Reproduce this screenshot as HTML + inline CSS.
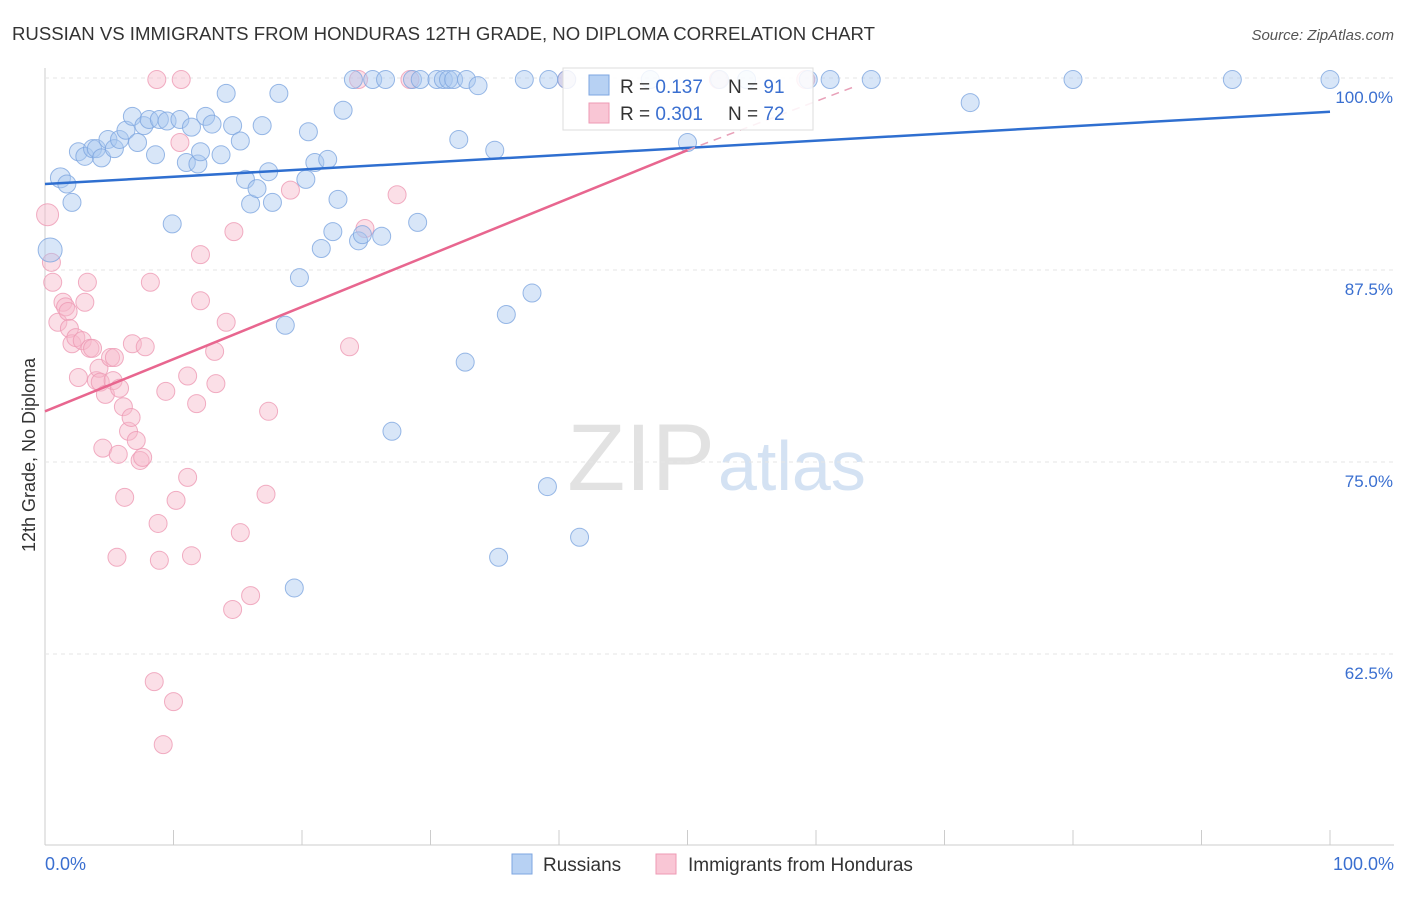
<!DOCTYPE html>
<html><head><meta charset="utf-8"><style>
body{margin:0;background:#fff;font-family:"Liberation Sans",sans-serif;}
svg text{font-family:"Liberation Sans",sans-serif;}
</style></head><body>
<svg id="c" width="1406" height="892">
<text x="12" y="40" font-size="18.6" fill="#333">RUSSIAN VS IMMIGRANTS FROM HONDURAS 12TH GRADE, NO DIPLOMA CORRELATION CHART</text>
<text x="1394" y="40" font-size="15" fill="#555" font-style="italic" text-anchor="end">Source: ZipAtlas.com</text>
<text x="35" y="455" font-size="18" fill="#333" text-anchor="middle" transform="rotate(-90 35 455)">12th Grade, No Diploma</text>
<text x="715" y="490" font-size="95" fill="#e2e2e2" text-anchor="end" font-family="Liberation Serif">ZIP</text>
<text x="718" y="490" font-size="70" fill="#d4e2f3">atlas</text>
<g id="grid"></g><g id="pts"></g><g id="trend"></g>
<g>
<rect x="563" y="68" width="250" height="62" fill="#fff" fill-opacity="0.85" stroke="#ddd"/>
<rect x="589" y="75" width="20" height="20" fill="#b7d1f3" stroke="#7ea6e0"/>
<rect x="589" y="103" width="20" height="20" fill="#f9c6d5" stroke="#ee9ab4"/>
<text x="620" y="93" font-size="19" fill="#333">R = <tspan fill="#3a6fd0">0.137</tspan></text>
<text x="728" y="93" font-size="19" fill="#333">N = <tspan fill="#3a6fd0"> 91</tspan></text>
<text x="620" y="120" font-size="19" fill="#333">R = <tspan fill="#3a6fd0">0.301</tspan></text>
<text x="728" y="120" font-size="19" fill="#333">N = <tspan fill="#3a6fd0">72</tspan></text>
</g>
<g>
<rect x="512" y="854" width="20" height="20" fill="#b7d1f3" stroke="#7ea6e0"/>
<text x="543" y="871" font-size="19" fill="#333">Russians</text>
<rect x="656" y="854" width="20" height="20" fill="#f9c6d5" stroke="#ee9ab4"/>
<text x="688" y="871" font-size="19" fill="#333">Immigrants from Honduras</text>
</g>
</svg>
<script>
const yTicks=[100,87.5,75,62.5];
const yTickLabels=["100.0%","87.5%","75.0%","62.5%"];
const xLabels=["0.0%","100.0%"];
const blueX=[0.4,1.2,1.7,2.1,2.6,3.1,3.7,4.0,4.4,4.9,5.4,5.8,6.3,6.8,7.2,7.7,8.1,8.6,8.9,9.5,9.9,10.5,11.0,11.4,11.9,12.1,12.5,13.0,13.7,14.1,14.6,15.2,15.6,16.0,16.5,16.9,17.4,17.7,18.2,19.8,18.7,19.4,20.3,20.5,21.0,21.5,22.0,22.4,22.8,23.2,24.0,24.4,24.7,25.5,26.2,26.5,27.0,28.6,29.0,29.2,30.5,31.0,31.4,31.8,32.2,32.7,32.8,33.7,35.0,35.3,35.9,37.3,37.9,39.2,39.1,41.6,40.6,47.1,50.0,52.5,54.6,59.4,61.1,64.3,72.0,80.0,92.4,100];
const blueY=[88.8,93.5,93.1,91.9,95.2,94.9,95.4,95.4,94.8,96.0,95.4,96.0,96.6,97.5,95.8,96.9,97.3,95.0,97.3,97.2,90.5,97.3,94.5,96.8,94.4,95.2,97.5,97.0,95.0,99.0,96.9,95.9,93.4,91.8,92.8,96.9,93.9,91.9,99.0,87.0,83.9,66.8,93.4,96.5,94.5,88.9,94.7,90.0,92.1,97.9,99.9,89.4,89.8,99.9,89.7,99.9,77.0,99.9,90.6,99.9,99.9,99.9,99.9,99.9,96.0,81.5,99.9,99.5,95.3,68.8,84.6,99.9,86.0,99.9,73.4,70.1,99.9,99.9,95.8,99.9,99.9,99.9,99.9,99.9,98.4,99.9,99.9,99.9];
const pinkX=[0.2,0.5,0.6,1.0,1.4,1.6,1.8,1.9,2.1,2.4,2.6,2.9,3.3,3.1,3.5,3.7,4.0,4.2,4.3,4.5,4.7,5.1,5.3,5.4,5.7,5.8,6.1,6.2,6.5,6.7,6.8,7.1,7.4,7.6,7.8,8.2,8.5,8.8,8.9,9.2,9.4,10.0,10.2,10.5,10.6,11.1,11.1,11.4,11.8,12.1,12.1,13.2,13.3,14.1,14.6,14.7,15.2,16.0,17.2,17.4,19.1,23.7,24.9,27.4,8.7,24.4,28.4,40.6,52.4,59.2,5.6];
const pinkY=[91.1,88.0,86.7,84.1,85.4,85.1,84.8,83.7,82.7,83.1,80.5,82.9,86.7,85.4,82.4,82.4,80.3,81.1,80.2,75.9,79.4,81.8,80.3,81.8,75.5,79.8,78.6,72.7,77.0,77.9,82.7,76.4,75.1,75.3,82.5,86.7,60.7,71.0,68.6,56.6,79.6,59.4,72.5,95.8,99.9,80.6,74.0,68.9,78.8,88.5,85.5,82.2,80.1,84.1,65.4,90.0,70.4,66.3,72.9,78.3,92.7,82.5,90.2,92.4,99.9,99.9,99.9,99.9,99.9,99.9,68.8];
const blueTrend=[[0,93.1],[100,97.8]];
const pinkTrend=[[0,78.3],[50,95.3]];
const pinkDash=[[50,95.3],[63.2,99.5]];
const X=v=>45+v*12.85, Y=v=>78+(100-v)*15.36;
const NS="http://www.w3.org/2000/svg";
function mk(t,a,p){const e=document.createElementNS(NS,t);for(const k in a)e.setAttribute(k,a[k]);p.appendChild(e);return e;}
const grid=document.getElementById('grid');
mk('line',{x1:45,y1:68,x2:45,y2:845,stroke:'#ccc'},grid);
mk('line',{x1:45,y1:845,x2:1394,y2:845,stroke:'#ccc'},grid);
yTicks.forEach((t,i)=>{
 const l=mk('line',{x1:45,y1:Y(t),x2:1394,y2:Y(t),stroke:'#e6e6e6','stroke-dasharray':'4,4'},grid);
 
 
 const tx=mk('text',{x:1393,y:Y(t)+25,'font-size':17,fill:'#3a6fd0','text-anchor':'end'},grid);
 tx.textContent=yTickLabels[i];
 
 
});
for(let i=0;i<=10;i++){mk('line',{x1:X(i*10),y1:830,x2:X(i*10),y2:845,stroke:'#ccc'},grid);}
[[0,'start',45],[1,'end',1394]].forEach(([i,a,x])=>{const t=mk('text',{x:x,y:870,'font-size':18,fill:'#3a6fd0','text-anchor':a},grid);t.textContent=xLabels[i];
 
 });
const pts=document.getElementById('pts');
function dots(xs,ys,fill,stroke,name){xs.forEach((x,i)=>{
 const r=(i===0)?(name==='russian-point'?12:11):9;
 const c=mk('circle',{cx:X(x),cy:Y(ys[i]),r:(i===1&&name==='russian-point')?10:r,fill:fill,'fill-opacity':0.45,stroke:stroke,'stroke-opacity':0.8},pts);
 
 
});}
dots(pinkX,pinkY,'#f7b7ca','#ee9ab4','honduras-point');
dots(blueX,blueY,'#a9c7ef','#7ea6e0','russian-point');
const tr=document.getElementById('trend');
const b=mk('line',{x1:X(blueTrend[0][0]),y1:Y(blueTrend[0][1]),x2:X(blueTrend[1][0]),y2:Y(blueTrend[1][1]),stroke:'#2f6fd0','stroke-width':2.5},tr);


const p=mk('line',{x1:X(pinkTrend[0][0]),y1:Y(pinkTrend[0][1]),x2:X(pinkTrend[1][0]),y2:Y(pinkTrend[1][1]),stroke:'#e8668f','stroke-width':2.5},tr);


const d=mk('line',{x1:X(pinkDash[0][0]),y1:Y(pinkDash[0][1]),x2:X(pinkDash[1][0]),y2:Y(pinkDash[1][1]),stroke:'#e8a0b8','stroke-width':1.5,'stroke-dasharray':'8,6'},tr);


</script>
</body></html>
